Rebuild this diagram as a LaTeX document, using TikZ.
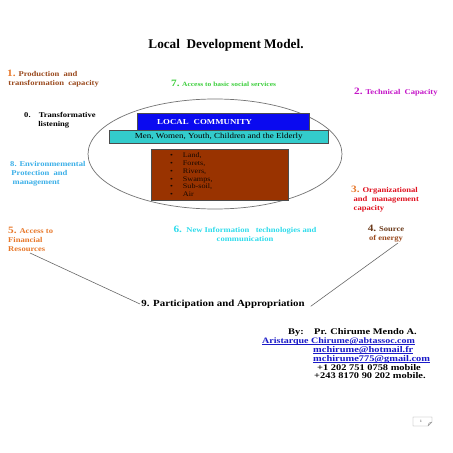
\documentclass[tikz,border=0pt]{standalone}
\usepackage{fontspec}
\setmainfont{Liberation Serif}
\newfontfamily\widefont{Liberation Serif}[FakeStretch=1.16]
\newfontfamily\widerfont{Liberation Serif}[FakeStretch=1.2]
\usetikzlibrary{positioning}

\definecolor{prodbrown}{HTML}{9A4A1E}
\definecolor{numorange}{HTML}{E8782A}
\definecolor{socgreen}{HTML}{3CCF3C}
\definecolor{techmag}{HTML}{C414C8}
\definecolor{envblue}{HTML}{3AAFE8}
\definecolor{orgred}{HTML}{E0101E}
\definecolor{newcyan}{HTML}{2EDCEC}
\definecolor{energybrown}{HTML}{6B3A1A}
\definecolor{lcblue}{HTML}{0A0AF0}
\definecolor{popcyan}{HTML}{33CCCC}
\definecolor{resbrown}{HTML}{993300}
\definecolor{linkblue}{HTML}{1A1AC8}

\newcommand{\bignum}[1]{{\fontsize{8.3}{8.3}\selectfont #1}}
\newcommand{\mailline}[1]{\underline{\smash{#1}}}

\begin{document}
\begin{tikzpicture}[x=0.03cm, y=-0.03cm,
    lbl/.style={font=\widefont\bfseries\fontsize{6.3}{7.6}\selectfont, align=left,
      inner sep=0, anchor=west},
    author/.style={font=\widerfont\bfseries\fontsize{7.4}{7.4}\selectfont, inner sep=0,
      anchor=base west},
    box/.style={draw=black!70, line width=.4pt, inner sep=0, anchor=north west},
    link/.style={draw=black!60, line width=.5pt}
  ]
    \useasboundingbox (0,0) rectangle (453,453);
    \fill[white] (0,0) rectangle (453,453);

    \node[font=\bfseries\fontsize{11.3}{13}\selectfont, inner sep=0] (title) at (226,45)
      {Local\ \ Development Model.};

    % capacities round the community
    \node[lbl, text=prodbrown] (prod) at (7,79)
      {\textcolor{numorange}{\bignum{1.}} Production\ \ and\\ \,transformation\ \ capacity};
    \node[lbl, text=socgreen, font=\widefont\bfseries\fontsize{5.5}{7}\selectfont] (social) at (171,83)
      {\bignum{7.} Access to basic social services};
    \node[lbl, text=techmag] (tech) at (354,92) {\bignum{2.} Technical\ \ Capacity};
    \node[lbl] (listen) at (24,120)
      {0.\hspace{1.1em}Transformative\\ \hspace{1.9em}listening};
    \node[lbl, text=envblue] (env) at (10,174)
      {8. Environmemental\\ \,Protection\ \ and\\ \,\,management};
    \node[lbl, text=orgred] (org) at (351,199)
      {\textcolor{numorange}{\bignum{3.}} Organizational\\ \,\,and\ \ management\\ \,\,capacity};
    \node[lbl, text=numorange] (fin) at (8,239)
      {\bignum{5.} Access to\\Financial\\Resources};
    \node[lbl, text=newcyan, align=center, anchor=center] (newtech) at (245,234)
      {\bignum{6.}\ \ New Information\ \ \ technologies and\\ communication};
    \node[lbl, text=energybrown, align=center, anchor=center] (energy) at (386,234)
      {\bignum{4.} Source\\ \textcolor{prodbrown}{of energy}};

    % local community
    \draw[black!55, line width=.6pt] (215,154) ellipse [x radius=127, y radius=55];
    \node[box, fill=lcblue, minimum width=4.95cm, minimum height=.51cm,
      text width=3.95cm, inner xsep=.6cm, align=left, text=white,
      font=\widefont\bfseries\fontsize{6.5}{7}\selectfont] (lc) at (137,113) {LOCAL\ \ COMMUNITY};
    \node[box, fill=popcyan, minimum width=6.57cm, minimum height=.39cm,
      font=\widefont\fontsize{6.6}{7}\selectfont] (people) at (109,130)
      {Men, Women, Youth, Children and the Elderly};
    \node[box, fill=resbrown, minimum width=4.11cm, minimum height=1.53cm] (res) at (151,149) {};
    \node[inner sep=0, anchor=north west, align=left, text=black!85!resbrown,
      font=\widefont\fontsize{6}{6.8}\selectfont] (reslist) at (170,152)
      {\textbullet\hspace{1.4em}Land,\\ \textbullet\hspace{1.4em}Forets,\\
       \textbullet\hspace{1.4em}Rivers,\\ \textbullet\hspace{1.4em}Swamps,\\
       \textbullet\hspace{1.4em}Sub-soil,\\ \textbullet\hspace{1.4em}Air};

    % participation
    \node[font=\widefont\bfseries\fontsize{8}{8}\selectfont, inner sep=0] (part) at (223,304)
      {9. Participation and Appropriation};
    \coordinate (finend) at (30,253);
    \coordinate (energyend) at (398,243);
    \draw[link] (finend) -- ([xshift=-1pt]part.west);
    \draw[link] (energyend) -- ([xshift=5pt,yshift=-2pt]part.east);

    % author
    \node[author] (by) at (288,334) {By:\ \ \ \ Pr. Chirume Mendo A.};
    \node[author, text=linkblue, font=\widerfont\bfseries\fontsize{7.1}{7.1}\selectfont] (mail0)
      at (262,343) {\mailline{Aristarque\ Chirume@abtassoc.com}};
    \node[author, text=linkblue] (mail1) at (313,352) {\mailline{mchirume@hotmail.fr}};
    \node[author, text=linkblue] (mail2) at (313,361) {\mailline{mchirume775@gmail.com}};
    \node[author] (phone1) at (317,370) {+1 202 751 0758 mobile};
    \node[author] (phone2) at (314,378) {+243 8170 90 202 mobile.};

    % page number
    \draw[black!40, line width=.4pt] (413,417) -- (432,417) -- (432,422) -- (428,426)
      -- (413,426) -- cycle (432,422) -- (429,423) -- (428,426);
    \node[inner sep=0, font=\fontsize{3}{3}\selectfont] (pagenum) at (421,421) {1};
\end{tikzpicture}
\end{document}
